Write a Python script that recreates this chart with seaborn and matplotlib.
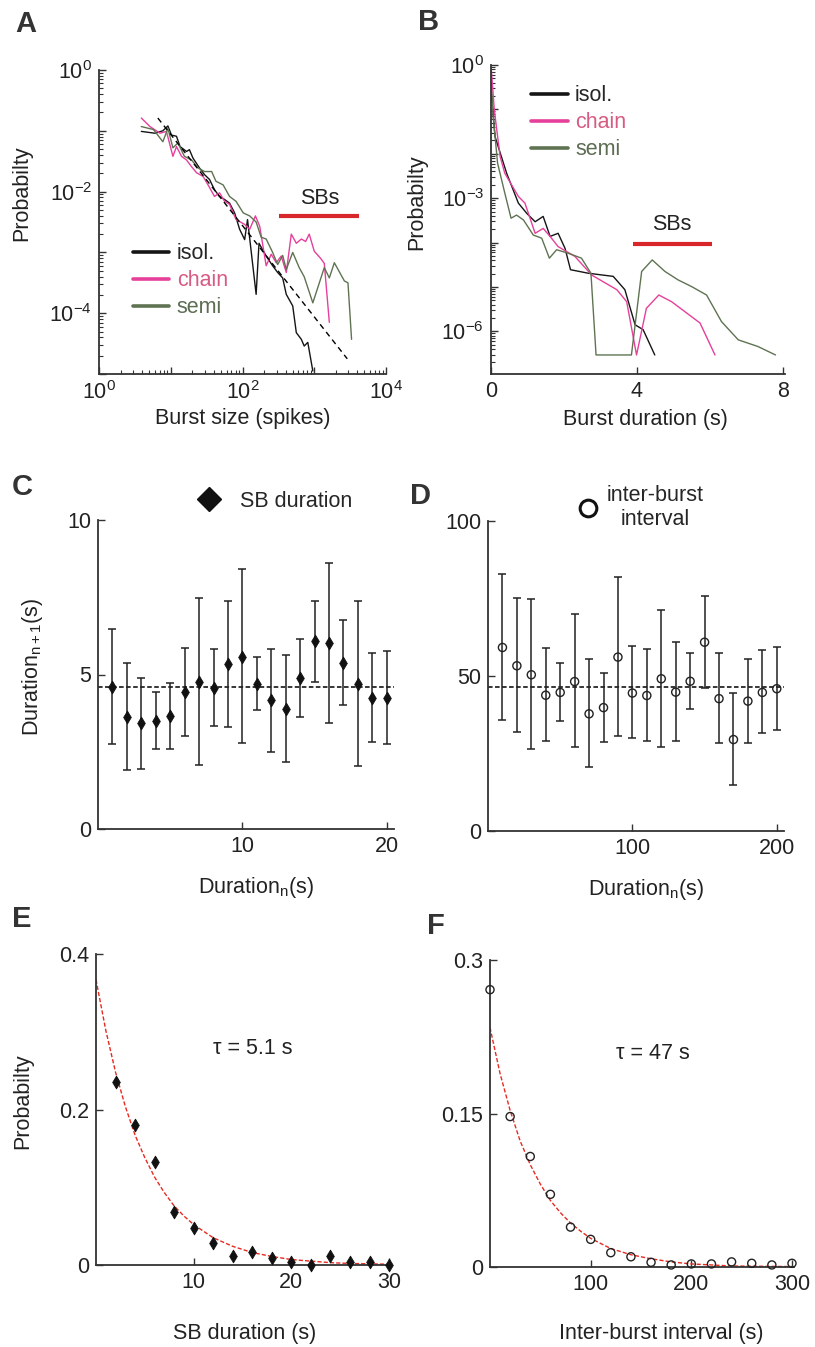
"""
Burst statistics figure: size / duration distributions, serial correlations and
exponential fits of SB duration and inter-burst interval
"""

import numpy as np
import seaborn as sns
import matplotlib.pyplot as plt
from matplotlib.lines import Line2D
from matplotlib.ticker import LogLocator, NullFormatter

# ---------------- data ----------------
# A: burst size distributions, stored as log10(size), log10(probability)
isol_size_lx = [0.59, 0.78, 0.89, 0.96, 1.01, 1.08, 1.13, 1.22, 1.26, 1.31, 1.40, 1.47, 1.54, 1.61, 1.68, 1.75, 1.82,
                1.89, 1.96, 2.03, 2.07, 2.19, 2.23, 2.33, 2.42, 2.49, 2.56, 2.61, 2.70, 2.75, 2.82, 2.86, 2.91, 2.98]
isol_size_lp = [-1.01, -1.04, -1.00, -0.92, -1.07, -1.09, -1.26, -1.34, -1.31, -1.45, -1.61, -1.72, -1.80, -1.97,
                -2.08, -2.13, -2.19, -2.35, -2.62, -2.79, -2.46, -3.69, -2.85, -3.06, -3.22, -3.33, -3.42, -3.69,
                -3.88, -4.32, -4.43, -4.54, -4.48, -4.95]
chain_size_lx = [0.59, 0.71, 0.85, 0.94, 1.03, 1.08, 1.15, 1.22, 1.29, 1.36, 1.45, 1.52, 1.61, 1.68, 1.75, 1.82, 1.91,
                 2.03, 2.10, 2.18, 2.24, 2.33, 2.40, 2.47, 2.54, 2.61, 2.68, 2.75, 2.82, 2.88, 2.93, 3.00, 3.09, 3.14,
                 3.21]
chain_size_lp = [-0.79, -0.93, -1.04, -1.01, -1.42, -1.26, -1.42, -1.48, -1.59, -1.69, -1.75, -1.89, -2.08, -2.02,
                 -2.16, -2.21, -2.46, -2.54, -2.62, -2.40, -2.57, -3.22, -3.03, -3.17, -3.06, -3.33, -2.70, -2.85,
                 -2.78, -2.82, -2.70, -2.98, -3.10, -3.18, -4.15]
semi_size_lx = [0.59, 0.76, 0.89, 0.96, 1.03, 1.10, 1.19, 1.29, 1.38, 1.47, 1.57, 1.63, 1.73, 1.82, 1.91, 2.01, 2.10,
                2.19, 2.26, 2.33, 2.42, 2.49, 2.56, 2.61, 2.70, 2.79, 2.86, 2.98, 3.14, 3.21, 3.28, 3.42, 3.47, 3.52]
semi_size_lp = [-0.93, -0.98, -1.18, -0.96, -1.28, -1.20, -1.42, -1.48, -1.61, -1.67, -1.67, -1.83, -1.89, -2.08,
                -2.16, -2.35, -2.40, -2.50, -2.75, -2.78, -3.00, -3.20, -3.05, -3.28, -3.00, -3.25, -3.40, -3.83,
                -3.25, -3.42, -3.17, -3.47, -3.50, -4.43]
powerlaw_lx = [0.82, 3.46]
powerlaw_lp = [-0.79, -4.75]
sb_size_range_lx = [2.51, 3.62]
sb_size_level_lp = -2.40

# B: burst duration distributions, duration in s and log10(probability)
isol_dur_x = [0, 0.11, 0.43, 0.75, 0.98, 1.21, 1.43, 1.62, 1.84, 2.03, 2.18, 2.67, 3.35, 3.67, 3.95, 4.17, 4.49]
isol_dur_lp = [-0.49, -1.61, -2.44, -3.11, -3.34, -3.53, -3.41, -3.86, -3.79, -4.13, -4.61, -4.69, -4.76, -5.06,
               -5.85, -5.96, -6.53]
chain_dur_x = [0, 0.09, 0.25, 0.38, 0.75, 0.93, 1.21, 1.43, 1.62, 1.84, 2.30, 2.76, 3.45, 3.72, 3.99, 4.26, 4.60,
               4.95, 5.73, 6.14]
chain_dur_lp = [0.0, -1.01, -2.06, -2.44, -2.96, -3.11, -3.79, -3.68, -3.86, -4.09, -4.31, -4.73, -5.06, -5.33,
                -6.53, -5.48, -5.18, -5.33, -5.81, -6.53]
semi_dur_x = [0, 0.06, 0.18, 0.38, 0.55, 0.70, 0.89, 1.16, 1.39, 1.60, 1.80, 2.12, 2.48, 2.74, 2.88, 3.85, 4.13,
              4.42, 4.77, 5.13, 5.50, 5.91, 6.32, 6.78, 7.32, 7.80]
semi_dur_lp = [-0.41, -1.16, -2.21, -2.89, -3.45, -3.38, -3.49, -3.83, -3.90, -4.35, -4.16, -4.24, -4.35, -4.69,
               -6.53, -6.53, -4.65, -4.39, -4.65, -4.84, -4.99, -5.18, -5.78, -6.19, -6.34, -6.53]
sb_dur_range = [3.89, 6.05]
sb_dur_level_lp = -4.03

# C: SB duration n+1 vs duration n
c_x = [1, 2, 3, 4, 5, 6, 7, 8, 9, 10, 11, 12, 13, 14, 15, 16, 17, 18, 19, 20]
c_mean = [4.60, 3.62, 3.42, 3.50, 3.65, 4.42, 4.75, 4.57, 5.33, 5.58, 4.69, 4.18, 3.89, 4.88, 6.07, 6.01, 5.37,
          4.69, 4.25, 4.23]
c_low = [2.76, 1.92, 1.95, 2.60, 2.60, 3.01, 2.06, 3.34, 3.31, 2.77, 3.85, 2.50, 2.16, 3.64, 4.76, 3.44, 4.00,
         2.03, 2.80, 2.74]
c_high = [6.47, 5.36, 4.89, 4.43, 4.73, 5.86, 7.49, 5.81, 7.39, 8.43, 5.57, 5.84, 5.63, 6.14, 7.38, 8.61, 6.75,
          7.38, 5.70, 5.75]
c_mean_all = 4.61

# D: inter-burst interval n+1 vs n
d_x = [10, 20, 30, 40, 50, 60, 70, 80, 90, 100, 110, 120, 130, 140, 150, 160, 170, 180, 190, 200]
d_mean = [59.2, 53.3, 50.4, 43.8, 44.7, 48.2, 37.8, 39.8, 56.1, 44.5, 43.7, 49.1, 44.8, 48.3, 60.9, 42.7, 29.5,
          41.9, 44.7, 45.9]
d_low = [35.8, 31.8, 26.4, 29.1, 35.6, 27.0, 20.7, 28.8, 30.7, 29.9, 29.1, 27.0, 29.1, 39.5, 46.1, 28.5, 14.7,
         28.4, 31.5, 32.5]
d_high = [82.8, 75.2, 74.8, 59.1, 54.2, 70.0, 55.4, 51.1, 82.0, 59.6, 58.6, 71.2, 60.9, 57.5, 75.9, 57.4, 44.6,
          55.4, 58.4, 59.4]
d_mean_all = 46.5

# E: SB duration distribution + exponential fit (tau = 5.1 s)
e_x = [2, 4, 6, 8, 10, 12, 14, 16, 18, 20, 22, 24, 26, 28, 30]
e_p = [0.236, 0.180, 0.132, 0.068, 0.048, 0.028, 0.012, 0.017, 0.009, 0.004, 0.000, 0.012, 0.004, 0.004, 0.000]
e_fit_x = [0, 1, 2, 3, 4, 5, 6, 7, 8, 9, 10, 12, 14, 16, 18, 20, 22, 24, 26, 28, 30]
e_fit_p = [0.367, 0.302, 0.248, 0.204, 0.167, 0.138, 0.113, 0.093, 0.076, 0.063, 0.052, 0.035, 0.024, 0.016,
           0.011, 0.007, 0.005, 0.003, 0.002, 0.0015, 0.001]

# F: inter-burst interval distribution + exponential fit (tau = 47 s)
f_x = [0, 20, 40, 60, 80, 100, 120, 140, 160, 180, 200, 220, 240, 260, 280, 300]
f_p = [0.271, 0.147, 0.108, 0.071, 0.039, 0.027, 0.014, 0.010, 0.0046, 0.002, 0.003, 0.003, 0.005, 0.0036,
       0.002, 0.0036]
f_fit_x = [0, 10, 20, 30, 40, 50, 60, 70, 80, 90, 100, 120, 140, 160, 180, 200, 240, 300]
f_fit_p = [0.234, 0.189, 0.153, 0.123, 0.100, 0.081, 0.065, 0.053, 0.043, 0.035, 0.028, 0.018, 0.012, 0.008,
           0.005, 0.003, 0.001, 0.0004]

# ---------------- style ----------------
sns.set_style('ticks')
plt.rcParams['font.family'] = ['Liberation Sans', 'DejaVu Sans']
plt.rcParams['mathtext.fontset'] = 'custom'
plt.rcParams['mathtext.rm'] = 'Liberation Sans'
plt.rcParams['mathtext.it'] = 'Liberation Sans:italic'
plt.rcParams['mathtext.bf'] = 'Liberation Sans:bold'

FS = 15.5
INK = '#222222'
SPINE = '#333333'
col_isol, col_chain, col_semi = '#151515', '#e5409a', '#5f7352'
txt_chain, txt_semi = '#d65c82', '#5d6d54'
RED_BAR = '#d8262b'
RED_FIT = '#e62a22'

W, H = 815, 1347
fig = plt.figure(figsize=(W / 100, H / 100), dpi=100)


def add_axes(left, top, right, bottom):
    # pixel box -> figure fraction
    return fig.add_axes([left / W, 1 - bottom / H, (right - left) / W, (bottom - top) / H])


def style(ax):
    sns.despine(ax=ax)
    for s in ['left', 'bottom']:
        ax.spines[s].set_color(SPINE)
        ax.spines[s].set_linewidth(1.3)
    ax.tick_params(which='major', direction='in', length=5, width=1.0, color=SPINE,
                   labelsize=FS, labelcolor=INK, pad=5)
    ax.tick_params(which='minor', direction='in', length=3, width=0.8, color=SPINE)


def pow10(v):
    return r'$\mathregular{10^{%d}}$' % v


def letter(x, y, s):
    fig.text(x / W, 1 - y / H, s, fontsize=21, fontweight='bold', color='#333333', va='top', ha='left')


def line_legend(ax, anchor):
    leg = ax.legend(loc='upper left', bbox_to_anchor=anchor, frameon=False, fontsize=FS,
                    handlelength=1.7, handletextpad=0.35, labelspacing=0.28, borderpad=0, borderaxespad=0)
    for h in leg.legend_handles:
        h.set_linewidth(2.6)
    texts = leg.get_texts()
    texts[1].set_color(txt_chain)
    texts[2].set_color(txt_semi)
    return leg


# ---------------- A ----------------
axA = add_axes(99, 70, 386, 374)
axA.set_xscale('log')
axA.set_yscale('log')
for lx, lp, c, lab in [(isol_size_lx, isol_size_lp, col_isol, 'isol.'),
                       (chain_size_lx, chain_size_lp, col_chain, 'chain'),
                       (semi_size_lx, semi_size_lp, col_semi, 'semi')]:
    sns.lineplot(x=10.0 ** np.array(lx), y=10.0 ** np.array(lp), ax=axA, color=c, lw=1.0,
                 sort=False, estimator=None, label=lab)
sns.lineplot(x=10.0 ** np.array(powerlaw_lx), y=10.0 ** np.array(powerlaw_lp), ax=axA, color='k',
             lw=1.0, linestyle=(0, (4, 3)), sort=False, estimator=None)
axA.plot(10.0 ** np.array(sb_size_range_lx), [10.0 ** sb_size_level_lp] * 2, color=RED_BAR, lw=3.0,
         solid_capstyle='butt')
axA.text(10 ** 3.08, 10 ** -2.11, 'SBs', fontsize=FS, ha='center', va='center', color=INK)
axA.set_xlim(1, 1e4)
axA.set_ylim(1e-5, 1)
axA.set_xticks([1, 10, 100, 1000, 1e4], [pow10(0), '', pow10(2), '', pow10(4)])
axA.set_yticks([1e-5, 1e-4, 1e-3, 1e-2, 1e-1, 1], ['', pow10(-4), '', pow10(-2), '', pow10(0)])
for axis in [axA.xaxis, axA.yaxis]:
    axis.set_minor_locator(LogLocator(base=10, subs=np.arange(2, 10), numticks=30))
    axis.set_minor_formatter(NullFormatter())
style(axA)
line_legend(axA, (0.117, 0.43))
axA.set_xlabel('Burst size (spikes)', fontsize=FS, color=INK)
axA.set_ylabel('Probabilty', fontsize=FS, color=INK)
axA.xaxis.set_label_coords(0.50, -0.112)
axA.yaxis.set_label_coords(-0.233, 0.595)

# ---------------- B ----------------
axB = add_axes(491, 65, 785, 374)
axB.set_yscale('log')
for xs, lp, c, lab in [(isol_dur_x, isol_dur_lp, col_isol, 'isol.'),
                       (chain_dur_x, chain_dur_lp, col_chain, 'chain'),
                       (semi_dur_x, semi_dur_lp, col_semi, 'semi')]:
    sns.lineplot(x=xs, y=10.0 ** np.array(lp), ax=axB, color=c, lw=1.0, sort=False, estimator=None, label=lab)
axB.plot(sb_dur_range, [10.0 ** sb_dur_level_lp] * 2, color=RED_BAR, lw=3.0, solid_capstyle='butt')
axB.text(4.95, 10 ** -3.6, 'SBs', fontsize=FS, ha='center', va='center', color=INK)
axB.set_xlim(0, 8.06)
axB.set_ylim(1.1e-7, 1)
axB.set_xticks([0, 4, 8], ['0', '4', '8'])
axB.set_yticks([1e-6, 1e-5, 1e-4, 1e-3, 1e-2, 1e-1, 1],
               [pow10(-6), '', '', pow10(-3), '', '', pow10(0)])
axB.yaxis.set_minor_locator(LogLocator(base=10, subs=np.arange(2, 10), numticks=30))
axB.yaxis.set_minor_formatter(NullFormatter())
style(axB)
line_legend(axB, (0.136, 0.935))
axB.set_xlabel('Burst duration (s)', fontsize=FS, color=INK)
axB.set_ylabel('Probabilty', fontsize=FS, color=INK)
axB.xaxis.set_label_coords(0.524, -0.112)
axB.yaxis.set_label_coords(-0.218, 0.557)

# ---------------- C ----------------
axC = add_axes(98, 520, 394, 829)
c_mean_a = np.array(c_mean)
axC.axhline(c_mean_all, color='k', lw=1.1, linestyle=(0, (3, 1.6)), zorder=1)
axC.errorbar(c_x, c_mean_a, yerr=[c_mean_a - np.array(c_low), np.array(c_high) - c_mean_a], fmt='none',
             ecolor=INK, elinewidth=1.1, capsize=2.6, capthick=1.1, zorder=2)
sns.scatterplot(x=c_x, y=c_mean, ax=axC, marker='d', s=42, color='#111111', edgecolor='#111111',
                linewidth=0.6, zorder=3)
axC.set_xlim(0, 20.5)
axC.set_ylim(0, 10)
axC.set_xticks([10, 20], ['10', '20'])
axC.set_yticks([0, 5, 10], ['0', '5', '10'])
style(axC)
axC.legend(handles=[Line2D([], [], marker='D', linestyle='none', color='#111111', markersize=12.5)],
           labels=['SB duration'], loc='upper left', bbox_to_anchor=(0.338, 1.094), frameon=False,
           fontsize=FS, handlelength=1.0, handletextpad=0.95, borderpad=0, borderaxespad=0)
axC.set_xlabel(r'Duration$_{\mathregular{n}}$(s)', fontsize=FS, color=INK)
axC.set_ylabel(r'Duration$_{\mathregular{n+1}}$(s)', fontsize=FS, color=INK)
axC.xaxis.set_label_coords(0.534, -0.148)
axC.yaxis.set_label_coords(-0.18, 0.524)

# ---------------- D ----------------
axD = add_axes(488, 521, 784, 831)
d_mean_a = np.array(d_mean)
axD.axhline(d_mean_all, color='k', lw=1.1, linestyle=(0, (3, 1.6)), zorder=1)
axD.errorbar(d_x, d_mean_a, yerr=[d_mean_a - np.array(d_low), np.array(d_high) - d_mean_a], fmt='none',
             ecolor=INK, elinewidth=1.1, capsize=2.6, capthick=1.1, zorder=2)
sns.scatterplot(x=d_x, y=d_mean, ax=axD, marker='o', s=34, color=INK, facecolor='none', edgecolor=INK,
                linewidth=1.0, zorder=3)
axD.set_xlim(0, 205)
axD.set_ylim(0, 100)
axD.set_xticks([100, 200], ['100', '200'])
axD.set_yticks([0, 50, 100], ['0', '50', '100'])
style(axD)
legD = axD.legend(handles=[Line2D([], [], marker='o', linestyle='none', mfc='none', mec='#111111',
                                  markersize=12, mew=2.2)],
                  labels=['inter-burst\ninterval'], loc='upper left', bbox_to_anchor=(0.30, 1.116),
                  frameon=False, fontsize=FS, handlelength=1.0, handletextpad=0.4, borderpad=0,
                  borderaxespad=0)
legD.get_texts()[0].set_multialignment('center')
axD.set_xlabel(r'Duration$_{\mathregular{n}}$(s)', fontsize=FS, color=INK)
axD.xaxis.set_label_coords(0.534, -0.148)

# ---------------- E ----------------
axE = add_axes(96, 954, 391, 1265)
sns.lineplot(x=e_fit_x, y=e_fit_p, ax=axE, color=RED_FIT, lw=1.0, linestyle=(0, (3, 1.5)),
             sort=False, estimator=None, zorder=2)
sns.scatterplot(x=e_x, y=e_p, ax=axE, marker='d', s=42, color='#111111', edgecolor='#111111',
                linewidth=0.6, zorder=3, clip_on=False)
axE.text(16, 0.279, 'τ = 5.1 s', fontsize=FS, ha='center', va='center', color=INK)
axE.set_xlim(0, 30.2)
axE.set_ylim(0, 0.4)
axE.set_xticks([10, 20, 30], ['10', '20', '30'])
axE.set_yticks([0, 0.2, 0.4], ['0', '0.2', '0.4'])
style(axE)
axE.set_xlabel('SB duration (s)', fontsize=FS, color=INK)
axE.set_ylabel('Probabilty', fontsize=FS, color=INK)
axE.xaxis.set_label_coords(0.505, -0.185)
axE.yaxis.set_label_coords(-0.214, 0.527)

# ---------------- F ----------------
axF = add_axes(490, 960, 794, 1267)
sns.lineplot(x=f_fit_x, y=f_fit_p, ax=axF, color=RED_FIT, lw=1.0, linestyle=(0, (3, 1.5)),
             sort=False, estimator=None, zorder=2)
sns.scatterplot(x=f_x, y=f_p, ax=axF, marker='o', s=34, color=INK, facecolor='none', edgecolor=INK,
                linewidth=1.0, zorder=3, clip_on=False)
axF.text(162, 0.209, 'τ = 47 s', fontsize=FS, ha='center', va='center', color=INK)
axF.set_xlim(0, 302)
axF.set_ylim(0, 0.3)
axF.set_xticks([100, 200, 300], ['100', '200', '300'])
axF.set_yticks([0, 0.15, 0.3], ['0', '0.15', '0.3'])
style(axF)
axF.set_xlabel('Inter-burst interval (s)', fontsize=FS, color=INK)
axF.xaxis.set_label_coords(0.563, -0.181)

# panel letters
letter(15, 10, 'A')
letter(418, 8, 'B')
letter(12, 473, 'C')
letter(410, 482, 'D')
letter(12, 905, 'E')
letter(427, 912, 'F')

fig.savefig('out.png', dpi=100)
